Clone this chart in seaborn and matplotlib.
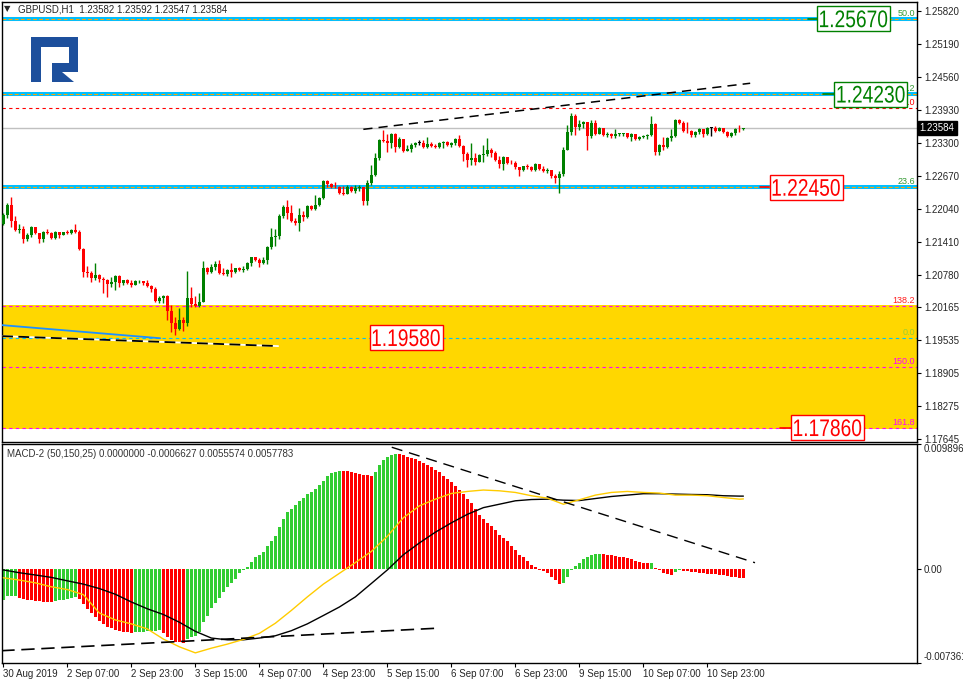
import numpy as np
import pandas as pd
import matplotlib
matplotlib.use("Agg")
import matplotlib.pyplot as plt
import matplotlib.transforms as mtransforms
from matplotlib.patches import Polygon, PathPatch, Rectangle
from matplotlib.textpath import TextPath
from matplotlib.font_manager import FontProperties
import seaborn as sns

# GBPUSD H1 candles (open of each bar = previous close)
first_open = 1.2175
closes = [
    1.2192, 1.2211, 1.2181, 1.2164, 1.2166, 1.2147, 1.2154, 1.2169, 1.2158, 1.2147,
    1.2160, 1.2158, 1.2148, 1.2160, 1.2154, 1.2160, 1.2158, 1.2164, 1.2160, 1.2127,
    1.2083, 1.2082, 1.2072, 1.2078, 1.2070, 1.2069, 1.2061, 1.2064, 1.2076, 1.2062,
    1.2068, 1.2062, 1.2059, 1.2066, 1.2067, 1.2062, 1.2057, 1.2051, 1.2028, 1.2034,
    1.2038, 1.2009, 1.1986, 1.1975, 1.1992, 1.1986, 1.2034, 1.2022, 1.2019, 1.2026,
    1.2091, 1.2083, 1.2093, 1.2099, 1.2082, 1.2080, 1.2087, 1.2083, 1.2091, 1.2087,
    1.2089, 1.2101, 1.2112, 1.2106, 1.2101, 1.2106, 1.2131, 1.2150, 1.2152, 1.2190,
    1.2208, 1.2196, 1.2181, 1.2177, 1.2192, 1.2189, 1.2210, 1.2204, 1.2211, 1.2225,
    1.2257, 1.2252, 1.2246, 1.2245, 1.2234, 1.2233, 1.2246, 1.2238, 1.2244, 1.2245,
    1.2219, 1.2253, 1.2269, 1.2301, 1.2336, 1.2334, 1.2330, 1.2347, 1.2322, 1.2338,
    1.2315, 1.2318, 1.2326, 1.2330, 1.2330, 1.2322, 1.2328, 1.2324, 1.2322, 1.2330,
    1.2332, 1.2326, 1.2330, 1.2338, 1.2324, 1.2309, 1.2297, 1.2301, 1.2294, 1.2307,
    1.2308, 1.2317, 1.2311, 1.2297, 1.2290, 1.2303, 1.2292, 1.2291, 1.2284, 1.2278,
    1.2286, 1.2284, 1.2278, 1.2290, 1.2280, 1.2276, 1.2278, 1.2267, 1.2263, 1.2271,
    1.2317, 1.2351, 1.2381, 1.2360, 1.2366, 1.2370, 1.2343, 1.2368, 1.2347, 1.2359,
    1.2345, 1.2347, 1.2343, 1.2347, 1.2348, 1.2349, 1.2341, 1.2347, 1.2338, 1.2341,
    1.2343, 1.2345, 1.2366, 1.2313, 1.2326, 1.2322, 1.2339, 1.2343, 1.2374, 1.2368,
    1.2353, 1.2352, 1.2345, 1.2351, 1.2357, 1.2347, 1.2359, 1.2359, 1.2353, 1.2359,
    1.2351, 1.2343, 1.2349, 1.2357, 1.2356, 1.2358,
]
highs = [
    1.2196, 1.2215, 1.2227, 1.2190, 1.2175, 1.2171, 1.2158, 1.2171, 1.2169, 1.2152,
    1.2162, 1.2166, 1.2160, 1.2162, 1.2160, 1.2160, 1.2164, 1.2166, 1.2175, 1.2164,
    1.2129, 1.2095, 1.2085, 1.2101, 1.2080, 1.2074, 1.2070, 1.2074, 1.2078, 1.2078,
    1.2068, 1.2070, 1.2068, 1.2068, 1.2068, 1.2066, 1.2068, 1.2059, 1.2055, 1.2038,
    1.2040, 1.2040, 1.2020, 1.1998, 1.2015, 1.1998, 1.2085, 1.2055, 1.2038, 1.2043,
    1.2104, 1.2093, 1.2099, 1.2104, 1.2106, 1.2091, 1.2089, 1.2101, 1.2091, 1.2093,
    1.2095, 1.2103, 1.2112, 1.2112, 1.2110, 1.2112, 1.2133, 1.2168, 1.2166, 1.2194,
    1.2211, 1.2221, 1.2211, 1.2187, 1.2206, 1.2200, 1.2211, 1.2211, 1.2231, 1.2227,
    1.2259, 1.2259, 1.2253, 1.2255, 1.2248, 1.2248, 1.2250, 1.2248, 1.2250, 1.2250,
    1.2246, 1.2259, 1.2288, 1.2311, 1.2338, 1.2355, 1.2347, 1.2349, 1.2349, 1.2341,
    1.2338, 1.2326, 1.2330, 1.2332, 1.2336, 1.2336, 1.2341, 1.2332, 1.2328, 1.2332,
    1.2334, 1.2334, 1.2332, 1.2339, 1.2345, 1.2326, 1.2313, 1.2330, 1.2311, 1.2309,
    1.2326, 1.2339, 1.2320, 1.2315, 1.2305, 1.2305, 1.2303, 1.2297, 1.2295, 1.2278,
    1.2286, 1.2290, 1.2286, 1.2292, 1.2290, 1.2286, 1.2282, 1.2278, 1.2271, 1.2276,
    1.2322, 1.2364, 1.2387, 1.2385, 1.2374, 1.2372, 1.2370, 1.2374, 1.2374, 1.2360,
    1.2359, 1.2351, 1.2349, 1.2357, 1.2349, 1.2349, 1.2349, 1.2349, 1.2347, 1.2343,
    1.2345, 1.2347, 1.2381, 1.2368, 1.2328, 1.2341, 1.2341, 1.2357, 1.2376, 1.2376,
    1.2372, 1.2370, 1.2355, 1.2353, 1.2359, 1.2357, 1.2360, 1.2360, 1.2362, 1.2360,
    1.2359, 1.2353, 1.2351, 1.2359, 1.2364, 1.2359,
]
lows = [
    1.2173, 1.2187, 1.2169, 1.2162, 1.2158, 1.2139, 1.2143, 1.2150, 1.2156, 1.2139,
    1.2141, 1.2156, 1.2147, 1.2147, 1.2148, 1.2154, 1.2156, 1.2156, 1.2158, 1.2126,
    1.2074, 1.2074, 1.2064, 1.2068, 1.2064, 1.2043, 1.2036, 1.2055, 1.2049, 1.2055,
    1.2059, 1.2061, 1.2055, 1.2059, 1.2062, 1.2059, 1.2055, 1.2045, 1.2026, 1.2024,
    1.2024, 1.1992, 1.1969, 1.1963, 1.1973, 1.1971, 1.1980, 1.2017, 1.2017, 1.2017,
    1.2028, 1.2080, 1.2082, 1.2087, 1.2080, 1.2078, 1.2076, 1.2074, 1.2082, 1.2085,
    1.2083, 1.2087, 1.2095, 1.2104, 1.2093, 1.2099, 1.2099, 1.2127, 1.2133, 1.2147,
    1.2187, 1.2185, 1.2179, 1.2173, 1.2162, 1.2181, 1.2187, 1.2202, 1.2202, 1.2210,
    1.2223, 1.2246, 1.2244, 1.2244, 1.2232, 1.2231, 1.2232, 1.2236, 1.2234, 1.2238,
    1.2211, 1.2211, 1.2250, 1.2267, 1.2297, 1.2332, 1.2313, 1.2320, 1.2313, 1.2320,
    1.2313, 1.2315, 1.2313, 1.2322, 1.2326, 1.2320, 1.2320, 1.2322, 1.2320, 1.2320,
    1.2320, 1.2324, 1.2322, 1.2326, 1.2322, 1.2295, 1.2284, 1.2288, 1.2288, 1.2294,
    1.2294, 1.2305, 1.2303, 1.2295, 1.2282, 1.2278, 1.2290, 1.2290, 1.2280, 1.2267,
    1.2276, 1.2280, 1.2276, 1.2276, 1.2278, 1.2274, 1.2273, 1.2263, 1.2253, 1.2234,
    1.2267, 1.2317, 1.2345, 1.2345, 1.2355, 1.2359, 1.2317, 1.2339, 1.2345, 1.2347,
    1.2343, 1.2341, 1.2339, 1.2339, 1.2343, 1.2343, 1.2339, 1.2334, 1.2336, 1.2336,
    1.2339, 1.2338, 1.2343, 1.2307, 1.2307, 1.2317, 1.2320, 1.2334, 1.2341, 1.2366,
    1.2351, 1.2349, 1.2341, 1.2341, 1.2347, 1.2341, 1.2345, 1.2343, 1.2351, 1.2353,
    1.2349, 1.2341, 1.2341, 1.2345, 1.2351, 1.2355,
]

# MACD-2 (50,150,25) histogram, one value per candle
macd_hist = [
    -0.00240, -0.00213, -0.00210, -0.00208, -0.00224, -0.00232, -0.00240, -0.00245, -0.00250, -0.00253,
    -0.00256, -0.00258, -0.00261, -0.00250, -0.00245, -0.00240, -0.00232, -0.00224, -0.00218, -0.00232,
    -0.00272, -0.00312, -0.00346, -0.00378, -0.00405, -0.00431, -0.00453, -0.00466, -0.00479, -0.00490,
    -0.00495, -0.00498, -0.00501, -0.00498, -0.00495, -0.00493, -0.00490, -0.00487, -0.00485, -0.00482,
    -0.00506, -0.00538, -0.00559, -0.00573, -0.00578, -0.00583, -0.00551, -0.00538, -0.00525, -0.00498,
    -0.00418, -0.00365, -0.00304, -0.00266, -0.00224, -0.00178, -0.00138, -0.00107, -0.00075, -0.00032,
    -0.00005, 0.00016, 0.00061, 0.00096, 0.00115, 0.00133, 0.00181, 0.00221, 0.00266, 0.00336,
    0.00399, 0.00453, 0.00479, 0.00506, 0.00541, 0.00567, 0.00594, 0.00612, 0.00634, 0.00666,
    0.00700, 0.00735, 0.00762, 0.00772, 0.00780, 0.00778, 0.00775, 0.00770, 0.00764, 0.00756,
    0.00748, 0.00743, 0.00738, 0.00772, 0.00820, 0.00860, 0.00887, 0.00900, 0.00913, 0.00908,
    0.00900, 0.00889, 0.00879, 0.00868, 0.00857, 0.00842, 0.00826, 0.00807, 0.00788, 0.00767,
    0.00740, 0.00714, 0.00687, 0.00660, 0.00628, 0.00594, 0.00559, 0.00522, 0.00474, 0.00426,
    0.00394, 0.00367, 0.00341, 0.00314, 0.00274, 0.00248, 0.00221, 0.00186, 0.00154, 0.00115,
    0.00096, 0.00069, 0.00035, 0.00021, -0.00003, -0.00013, -0.00032, -0.00059, -0.00085, -0.00117,
    -0.00107, -0.00064, -0.00005, 0.00027, 0.00053, 0.00080, 0.00096, 0.00112, 0.00117, 0.00120,
    0.00117, 0.00115, 0.00112, 0.00107, 0.00101, 0.00096, 0.00088, 0.00080, 0.00069, 0.00059,
    0.00053, 0.00048, 0.00053, 0.00011, -0.00005, -0.00032, -0.00037, -0.00043, -0.00021, -0.00008,
    -0.00013, -0.00016, -0.00019, -0.00024, -0.00029, -0.00032, -0.00035, -0.00037, -0.00040, -0.00043,
    -0.00045, -0.00056, -0.00060, -0.00064, -0.00065, -0.00066,
]

# the two MACD lines, read every 4th bar
line_bars = list(range(0, 185, 4)) + [185]
macd_black = [
    -0.00005, -0.00027, -0.00045, -0.00064, -0.00091, -0.00117, -0.00152, -0.00197,
    -0.00258, -0.00312, -0.00357, -0.00418, -0.00490, -0.00543, -0.00557, -0.00557,
    -0.00543, -0.00525, -0.00485, -0.00431, -0.00365, -0.00298, -0.00218, -0.00112,
    -0.00005, 0.00115, 0.00208, 0.00293, 0.00367, 0.00434, 0.00487, 0.00514,
    0.00541, 0.00551, 0.00554, 0.00546, 0.00543, 0.00559, 0.00575, 0.00586,
    0.00597, 0.00597, 0.00594, 0.00591, 0.00589, 0.00581, 0.00578, 0.00578,
]
macd_yellow = [
    -0.00067, -0.00085, -0.00107, -0.00138, -0.00160, -0.00200, -0.00345, -0.00400,
    -0.00431, -0.00471, -0.00551, -0.00612, -0.00660, -0.00623, -0.00591, -0.00554,
    -0.00506, -0.00426, -0.00325, -0.00218, -0.00117, -0.00032, 0.00053, 0.00141,
    0.00261, 0.00407, 0.00501, 0.00554, 0.00599, 0.00615, 0.00626, 0.00620,
    0.00607, 0.00581, 0.00562, 0.00514, 0.00549, 0.00586, 0.00607, 0.00615,
    0.00607, 0.00602, 0.00586, 0.00586, 0.00581, 0.00567, 0.00554, 0.00556,
]

tick_bars = list(range(0, 177, 16))
tick_labels = ["30 Aug 2019", "2 Sep 07:00", "2 Sep 23:00", "3 Sep 15:00", "4 Sep 07:00",
               "4 Sep 23:00", "5 Sep 15:00", "6 Sep 07:00", "6 Sep 23:00", "9 Sep 15:00",
               "10 Sep 07:00", "10 Sep 23:00"]
price_ticks = [1.25820, 1.25190, 1.24560, 1.23930, 1.23300, 1.22670, 1.22040, 1.21410,
               1.20780, 1.20165, 1.19535, 1.18905, 1.18275, 1.17645]
macd_ticks = [0.0098961, 0.0, -0.007361]
macd_tick_labels = ["0.0098961", "0.00", "-0.007361"]

# levels and drawn objects
support_levels = [1.25670, 1.24230, 1.22450]
red_level = 1.23962
last_price = 1.23584
zone_top, zone_bottom = 1.2020, 1.17836
fibo_levels = [1.2019, 1.19580, 1.19015, 1.17861]
label_prices = [1.25670, 1.24230, 1.22450, 1.19580, 1.17860]
upper_trend = ([90, 186.7], [1.2356, 1.2444])
low_trend = ([-0.3, 68.7], [1.1961, 1.1942])
blue_trend = ([-0.3, 39.2], [1.1982, 1.1957])
macd_trend_top = ([97.1, 187.9], [0.00964, 0.00052])
macd_trend_low = ([-0.5, 109.2], [-0.00643, -0.00464])

sns.set_style("white")
plt.rcParams['font.family'] = ['Liberation Sans', 'DejaVu Sans']

W, H = 963, 684
fig = plt.figure(figsize=(W / 100, H / 100), dpi=100)
ax = fig.add_axes([2 / W, 1 - 442 / H, 915 / W, 440 / H])
ax2 = fig.add_axes([2 / W, 1 - 662.5 / H, 915 / W, 218.5 / H])
xlim = (-0.33, 228.4)

# ---- candles
n = len(closes)
idx = np.arange(n)
c = np.array(closes)
o = np.array([first_open] + closes[:-1])
h = np.maximum(np.array(highs), np.maximum(o, c))
l = np.minimum(np.array(lows), np.minimum(o, c))
cols = np.where(c > o, '#008000', np.where(c < o, '#FF0000', '#000000'))
body_lo = np.minimum(o, c)
body_h = np.maximum(np.abs(c - o), 0.00012)

ax.axhspan(zone_bottom, zone_top, color='#FFD700', lw=0, zorder=0)
for lv in support_levels:
    ax.axhline(lv, color='#00BFFF', lw=2.9, zorder=1)
    ax.axhline(lv, color='#FFA500', lw=0.8, ls=(0, (3.5, 2)), zorder=1.1)
ax.axhline(red_level, color='#FF0000', lw=0.8, ls=(0, (3, 3)), zorder=1)
ax.axhline(last_price, color='#C0C0C0', lw=1, zorder=1)
fib_cols = ['#FF00FF', '#00BFFF', '#FF00FF', '#FF00FF']
for lv, fc in zip(fibo_levels, fib_cols):
    ax.axhline(lv, color=fc, lw=0.8, ls=(0, (3, 3)), zorder=1)

ax.vlines(idx, l, h, colors=cols, lw=1, zorder=3)
ax.bar(idx, body_h, bottom=body_lo, width=0.75, color=cols, lw=0, zorder=4)

# trend lines
ax.plot(*upper_trend, color='black', lw=1.1, ls=(0, (6, 4)), zorder=5)
ax.plot(*blue_trend, color='#1E90FF', lw=1.3, zorder=5)
ax.plot(*low_trend, color='white', lw=1.3, zorder=5)
ax.plot(*low_trend, color='black', lw=1.3, ls=(0, (6, 3)), zorder=5.1)

# fibo texts at right edge
fib_texts = [(1.25670, "50.0", '#339933'), (1.24230, "38.2", '#339933'),
             (red_level, "100.0", '#FF0000'), (1.22450, "23.6", '#339933'),
             (1.2019, "138.2", '#FF2020'), (1.19580, "0.0", '#9ACD32'),
             (1.19015, "150.0", '#FF00FF'), (1.17861, "161.8", '#FF00FF')]
for y, s, fc in fib_texts:
    ax.text(227.9, y + 0.0002, s, ha='right', va='bottom', fontsize=6.5, color=fc, zorder=6)

ax.set_xlim(*xlim)
ax.set_ylim(1.17588, 1.25992)
ax.set_xticks([])
ax.yaxis.tick_right()
ax.set_yticks(price_ticks)
ax.set_yticklabels([f"{v:.5f}" for v in price_ticks])
ax.tick_params(axis='y', length=3, width=0.8, color='black', pad=2, labelsize=7, right=True)

# price boxes (tall narrow digits, like the terminal's label font)
box_x = [212.55, 216.9, 200.7, 100.7, 206.05]
box_cols = ['#008000', '#008000', '#FF0000', '#FF0000', '#FF0000']
stubs = [(201.2, 203.4), (204.9, 207.9), (189.2, 191.4), None, (194.2, 197.2)]
fp = FontProperties(family='Liberation Sans')
ident = mtransforms.IdentityTransform()
for x, p, bc, st in zip(box_x, label_prices, box_cols, stubs):
    if st is not None:
        ax.plot(st, [p, p], color=bc, lw=1.2, zorder=9)
    cx, cy = ax.transData.transform((x, p))
    tp = TextPath((0, 0), f"{p:.5f}", size=24, prop=fp)
    bb = tp.get_extents()
    sy = 17.0 / bb.height
    sx = 0.8 * sy
    t = (mtransforms.Affine2D()
         .translate(-(bb.x0 + bb.width / 2), -(bb.y0 + bb.height / 2))
         .scale(sx, sy).translate(cx, cy))
    ax.add_patch(Rectangle((cx - 36.5, cy - 12.5), 73, 25, transform=ident, fc='white',
                           ec=bc, lw=1, zorder=10, clip_on=False))
    ax.add_patch(PathPatch(tp, transform=t, fc=bc, ec='none', zorder=11, clip_on=False))

tr = mtransforms.blended_transform_factory(ax.transAxes, ax.transData)
ax.text(1.003, last_price, "1.23584", transform=tr, ha='left', va='center', fontsize=7,
        color='white', zorder=12, clip_on=False,
        bbox=dict(boxstyle='square,pad=0.2', fc='black', ec='black'))

# ---- MACD panel
hist_df = pd.DataFrame({'bar': idx, 'macd': macd_hist})
hist_df['dir'] = np.where(hist_df['macd'].diff().fillna(1) >= 0, 'up', 'down')
sns.barplot(data=hist_df, x='bar', y='macd', hue='dir',
            palette={'up': '#32CD32', 'down': '#FF0000'}, native_scale=True,
            dodge=False, width=0.75, saturation=1, errorbar=None, legend=False,
            linewidth=0, ax=ax2, zorder=2)
sns.lineplot(x=line_bars, y=macd_black, color='black', lw=1, ax=ax2, zorder=3)
sns.lineplot(x=line_bars, y=macd_yellow, color='#FFCC00', lw=1, ax=ax2, zorder=3)
ax2.plot(*macd_trend_top, color='black', lw=1, ls=(0, (8, 5)), zorder=4)
ax2.plot(*macd_trend_low, color='black', lw=1.2, ls=(0, (8, 4)), zorder=4)

ax2.set_xlim(*xlim)
ax2.set_ylim(-0.007361, 0.0098961)
ax2.set_xlabel("")
ax2.set_ylabel("")
ax2.set_xticks(tick_bars)
ax2.set_xticklabels(tick_labels, ha='left', fontsize=7)
ax2.tick_params(axis='x', length=3, width=0.8, color='black', pad=2, bottom=True)
ax2.yaxis.tick_right()
ax2.set_yticks(macd_ticks)
ax2.set_yticklabels(macd_tick_labels)
ax2.tick_params(axis='y', length=3, width=0.8, color='black', pad=2, labelsize=7, right=True)
yl = ax2.get_yticklabels()
yl[0].set_va('top')
yl[2].set_va('bottom')

for a in (ax, ax2):
    for sp in a.spines.values():
        sp.set_color('black')
        sp.set_linewidth(1)

ax2.text(5 / 915, 1 - 10 / 218.5, "MACD-2 (50,150,25) 0.0000000 -0.0006627 0.0055574 0.0057783",
         transform=ax2.transAxes, ha='left', va='center', fontsize=7, color='#333333')

fig.text(4 / W, 1 - 9 / H, "\u25BC", fontsize=6, ha='left', va='center', family=['DejaVu Sans'])
fig.text(18 / W, 1 - 9 / H, "GBPUSD,H1  1.23582 1.23592 1.23547 1.23584", fontsize=7,
         ha='left', va='center')

# logo
px = mtransforms.Affine2D().scale(1 / W, -1 / H).translate(0, 1) + fig.transFigure
logo_top = [(31, 37), (78, 37), (78, 72), (52, 72), (52, 63), (69, 63), (69, 47),
            (41, 47), (41, 82), (31, 82)]
logo_leg = [(52, 72), (62, 72), (74, 82), (52, 82)]
for pts in (logo_top, logo_leg):
    fig.patches.append(Polygon(pts, closed=True, transform=px, fc='#1D4F9C', ec='none'))

fig.savefig("out.png", dpi=100)
